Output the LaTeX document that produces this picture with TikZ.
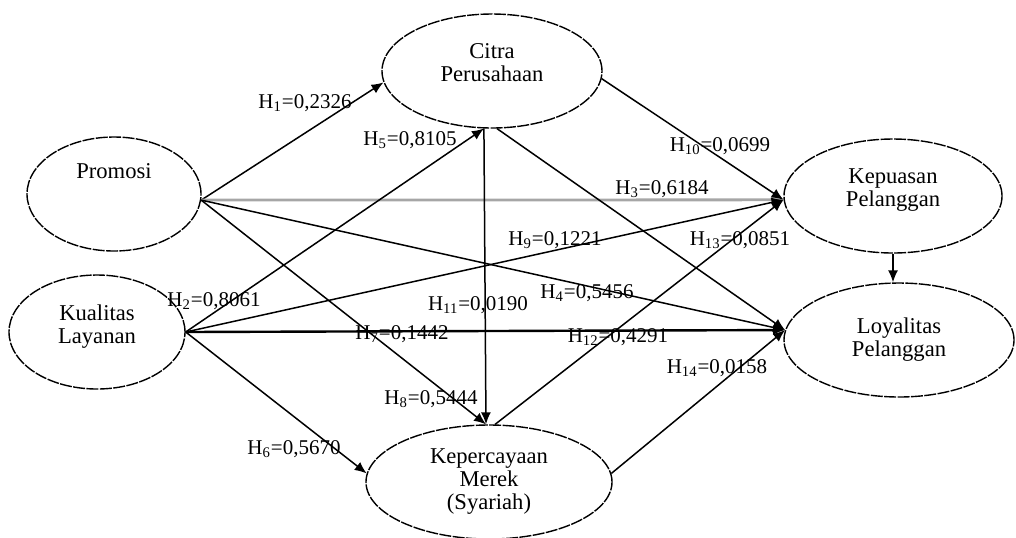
\documentclass[tikz,border=0pt]{standalone}
\usepackage{fontspec}
\setmainfont{Liberation Serif}
\usetikzlibrary{shapes.geometric,arrows.meta}

\begin{document}
\begin{tikzpicture}[
        x=0.5pt, y=-0.5pt,
        latent/.style={
            ellipse, draw, dash pattern=on 6pt off 0.7pt, line width=0.7pt,
            align=center, inner sep=0pt, minimum height=57pt,
            font=\fontsize{11.3}{11.5}\selectfont
        },
        link/.style={
            -{Latex[length=6pt,width=5pt]}, line width=0.75pt
        },
        coef/.style={
            font=\fontsize{10.5}{12}\selectfont, inner sep=0pt
        }
    ]
    \useasboundingbox (0,0) rectangle (1016,537);

    % Latent variables
    \node[latent, minimum width=87pt] (promosi) at (114,194) {Promosi\\[11.5pt]\mbox{}};
    \node[latent, minimum width=88pt] (kualitas) at (97,332) {Kualitas\\Layanan\\[-3.5pt]\mbox{}};
    \node[latent, minimum width=110pt] (citra) at (492,71) {Citra\\Perusahaan\\[-3.5pt]\mbox{}};
    \node[latent, minimum width=123pt] (merek) at (489,482) {Kepercayaan\\Merek\\(Syariah)};
    \node[latent, minimum width=109pt] (kepuasan) at (893,196) {Kepuasan\\Pelanggan\\[-3.5pt]\mbox{}};
    \node[latent, minimum width=115pt] (loyalitas) at (899,340) {Loyalitas\\Pelanggan};

    % Paths from Promosi
    \draw[link] (promosi.-4) -- (citra.186);
    \draw[link, draw=gray!70, line width=1.4pt] (promosi.-4) -- (kepuasan.182);
    \draw[link] (promosi.-4) -- (loyalitas.175);
    \draw[link] (promosi.-4) -- (merek.93);

    % Paths from Kualitas Layanan
    \draw[link] (kualitas.east) -- (citra.262);
    \draw[link] (kualitas.east) -- (kepuasan.182);
    \draw[link, line width=1.2pt] (kualitas.east) -- (loyalitas.175);
    \draw[link] (kualitas.east) -- (merek.176);

    % Paths from Citra Perusahaan
    \draw[link] (citra.262) -- (merek.93);
    \draw[link] (citra.-4) -- (kepuasan.182);
    \draw[link] (citra.275) -- (loyalitas.175);

    % Paths from Kepercayaan Merek
    \draw[link] (merek.84) -- (kepuasan.182);
    \draw[link] (merek.4) -- (loyalitas.175);

    % Kepuasan -> Loyalitas
    \draw[link] (kepuasan.south) -- (kepuasan.south |- loyalitas.north);

    % Coefficients
    \node[coef] (h1) at (305,103) {H\textsubscript{1}=0,2326};
    \node[coef] (h5) at (410,140) {H\textsubscript{5}=0,8105};
    \node[coef] (h10) at (720,146) {H\textsubscript{10}=0,0699};
    \node[coef] (h3) at (662,189) {H\textsubscript{3}=0,6184};
    \node[coef] (h9) at (555,240) {H\textsubscript{9}=0,1221};
    \node[coef] (h13) at (740,240) {H\textsubscript{13}=0,0851};
    \node[coef] (h4) at (587,293) {H\textsubscript{4}=0,5456};
    \node[coef] (h2) at (214,301) {H\textsubscript{2}=0,8061};
    \node[coef] (h11) at (478,305) {H\textsubscript{11}=0,0190};
    \node[coef] (h7) at (402,334) {H\textsubscript{7}=0,1442};
    \node[coef] (h12) at (618,337) {H\textsubscript{12}=0,4291};
    \node[coef] (h14) at (717,368) {H\textsubscript{14}=0,0158};
    \node[coef] (h8) at (431,399) {H\textsubscript{8}=0,5444};
    \node[coef] (h6) at (294,449) {H\textsubscript{6}=0,5670};

\end{tikzpicture}
\end{document}
